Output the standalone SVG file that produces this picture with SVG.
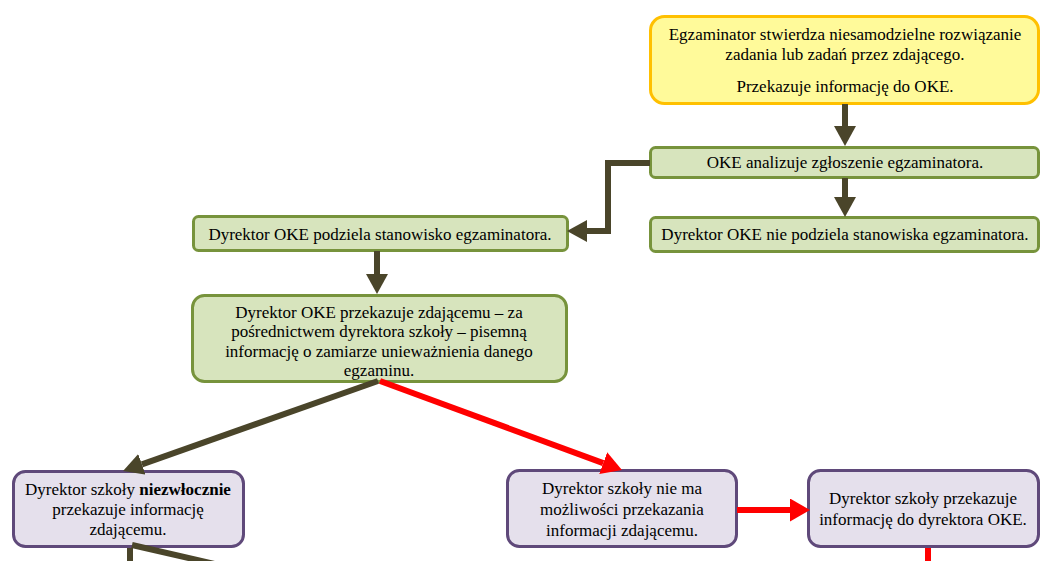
<svg xmlns="http://www.w3.org/2000/svg" width="1056" height="561" viewBox="0 0 1056 561">
<style>
text{font-family:"Liberation Serif","Times New Roman",serif;font-size:17px;fill:#000;text-anchor:middle}
.y{fill:#FFFA9A;stroke:#FFC000;stroke-width:3}
.g{fill:#D7E4BD;stroke:#77933C;stroke-width:3}
.p{fill:#E5E0EC;stroke:#5F497A;stroke-width:3}
.d{fill:none;stroke:#4A452A;stroke-width:6}
.r{fill:none;stroke:#FF0000;stroke-width:6}
</style>
<defs>
<marker id="ad" markerUnits="userSpaceOnUse" markerWidth="20" markerHeight="24" refX="0" refY="11" orient="auto"><path d="M0,0 L20,11 L0,22 z" fill="#4A452A"/></marker>
<marker id="ar" markerUnits="userSpaceOnUse" markerWidth="20" markerHeight="24" refX="0" refY="11.5" orient="auto"><path d="M0,0 L20,11.5 L0,23 z" fill="#FF0000"/></marker>
</defs>
<g id="n1"><rect class="y" x="650.5" y="16.5" width="388" height="87" rx="14"/>
<text x="845" y="40">Egzaminator stwierdza niesamodzielne rozwiązanie</text>
<text x="845" y="60">zadania lub zadań przez zdającego.</text>
<text x="845" y="92">Przekazuje informację do OKE.</text></g>
<g id="n2"><rect class="g" x="650.5" y="147.5" width="388" height="30" rx="5"/>
<text x="845" y="168">OKE analizuje zgłoszenie egzaminatora.</text></g>
<g id="n3"><rect class="g" x="650.5" y="217.5" width="388" height="34" rx="5"/>
<text x="845" y="240">Dyrektor OKE nie podziela stanowiska egzaminatora.</text></g>
<g id="n4"><rect class="g" x="193.5" y="216.5" width="374" height="34" rx="5"/>
<text x="380" y="240">Dyrektor OKE podziela stanowisko egzaminatora.</text></g>
<g id="n5"><rect class="g" x="192.5" y="295.5" width="374" height="86" rx="12"/>
<text x="379" y="318">Dyrektor OKE przekazuje zdającemu – za</text>
<text x="379" y="337">pośrednictwem dyrektora szkoły – pisemną</text>
<text x="379" y="357">informację o zamiarze unieważnienia danego</text>
<text x="379" y="376">egzaminu.</text></g>
<g id="n6"><rect class="p" x="13.5" y="471.5" width="230" height="75" rx="12"/>
<text x="128" y="495">Dyrektor szkoły <tspan font-weight="bold">niezwłocznie</tspan></text>
<text x="128" y="515">przekazuje informację</text>
<text x="128" y="535">zdającemu.</text></g>
<g id="n7"><rect class="p" x="507.5" y="470.5" width="229" height="76" rx="12"/>
<text x="622" y="494">Dyrektor szkoły nie ma</text>
<text x="622" y="515">możliwości przekazania</text>
<text x="622" y="536">informacji zdającemu.</text></g>
<g id="n8"><rect class="p" x="808.5" y="470.5" width="230" height="76" rx="12"/>
<text x="923" y="504">Dyrektor szkoły przekazuje</text>
<text x="923" y="525">informację do dyrektora OKE.</text></g>
<g id="connectors">
<path class="d" d="M845,104 V126" marker-end="url(#ad)"/>
<path class="d" d="M845,178 V197" marker-end="url(#ad)"/>
<path class="d" d="M650,163 H608 V231 H587" marker-end="url(#ad)"/>
<path class="d" d="M377,251 V274" marker-end="url(#ad)"/>
<path class="d" d="M378,381 L141.9,464.3" marker-end="url(#ad)"/>
<path class="r" d="M380,381 L603.2,463.1" marker-end="url(#ar)"/>
<path class="r" d="M737,510 H790" marker-end="url(#ar)"/>
<path class="r" d="M928,548 V565"/>
<path class="d" d="M130,548 V565"/>
<path class="d" d="M132,545 L232,568"/>
</g>
</svg>
